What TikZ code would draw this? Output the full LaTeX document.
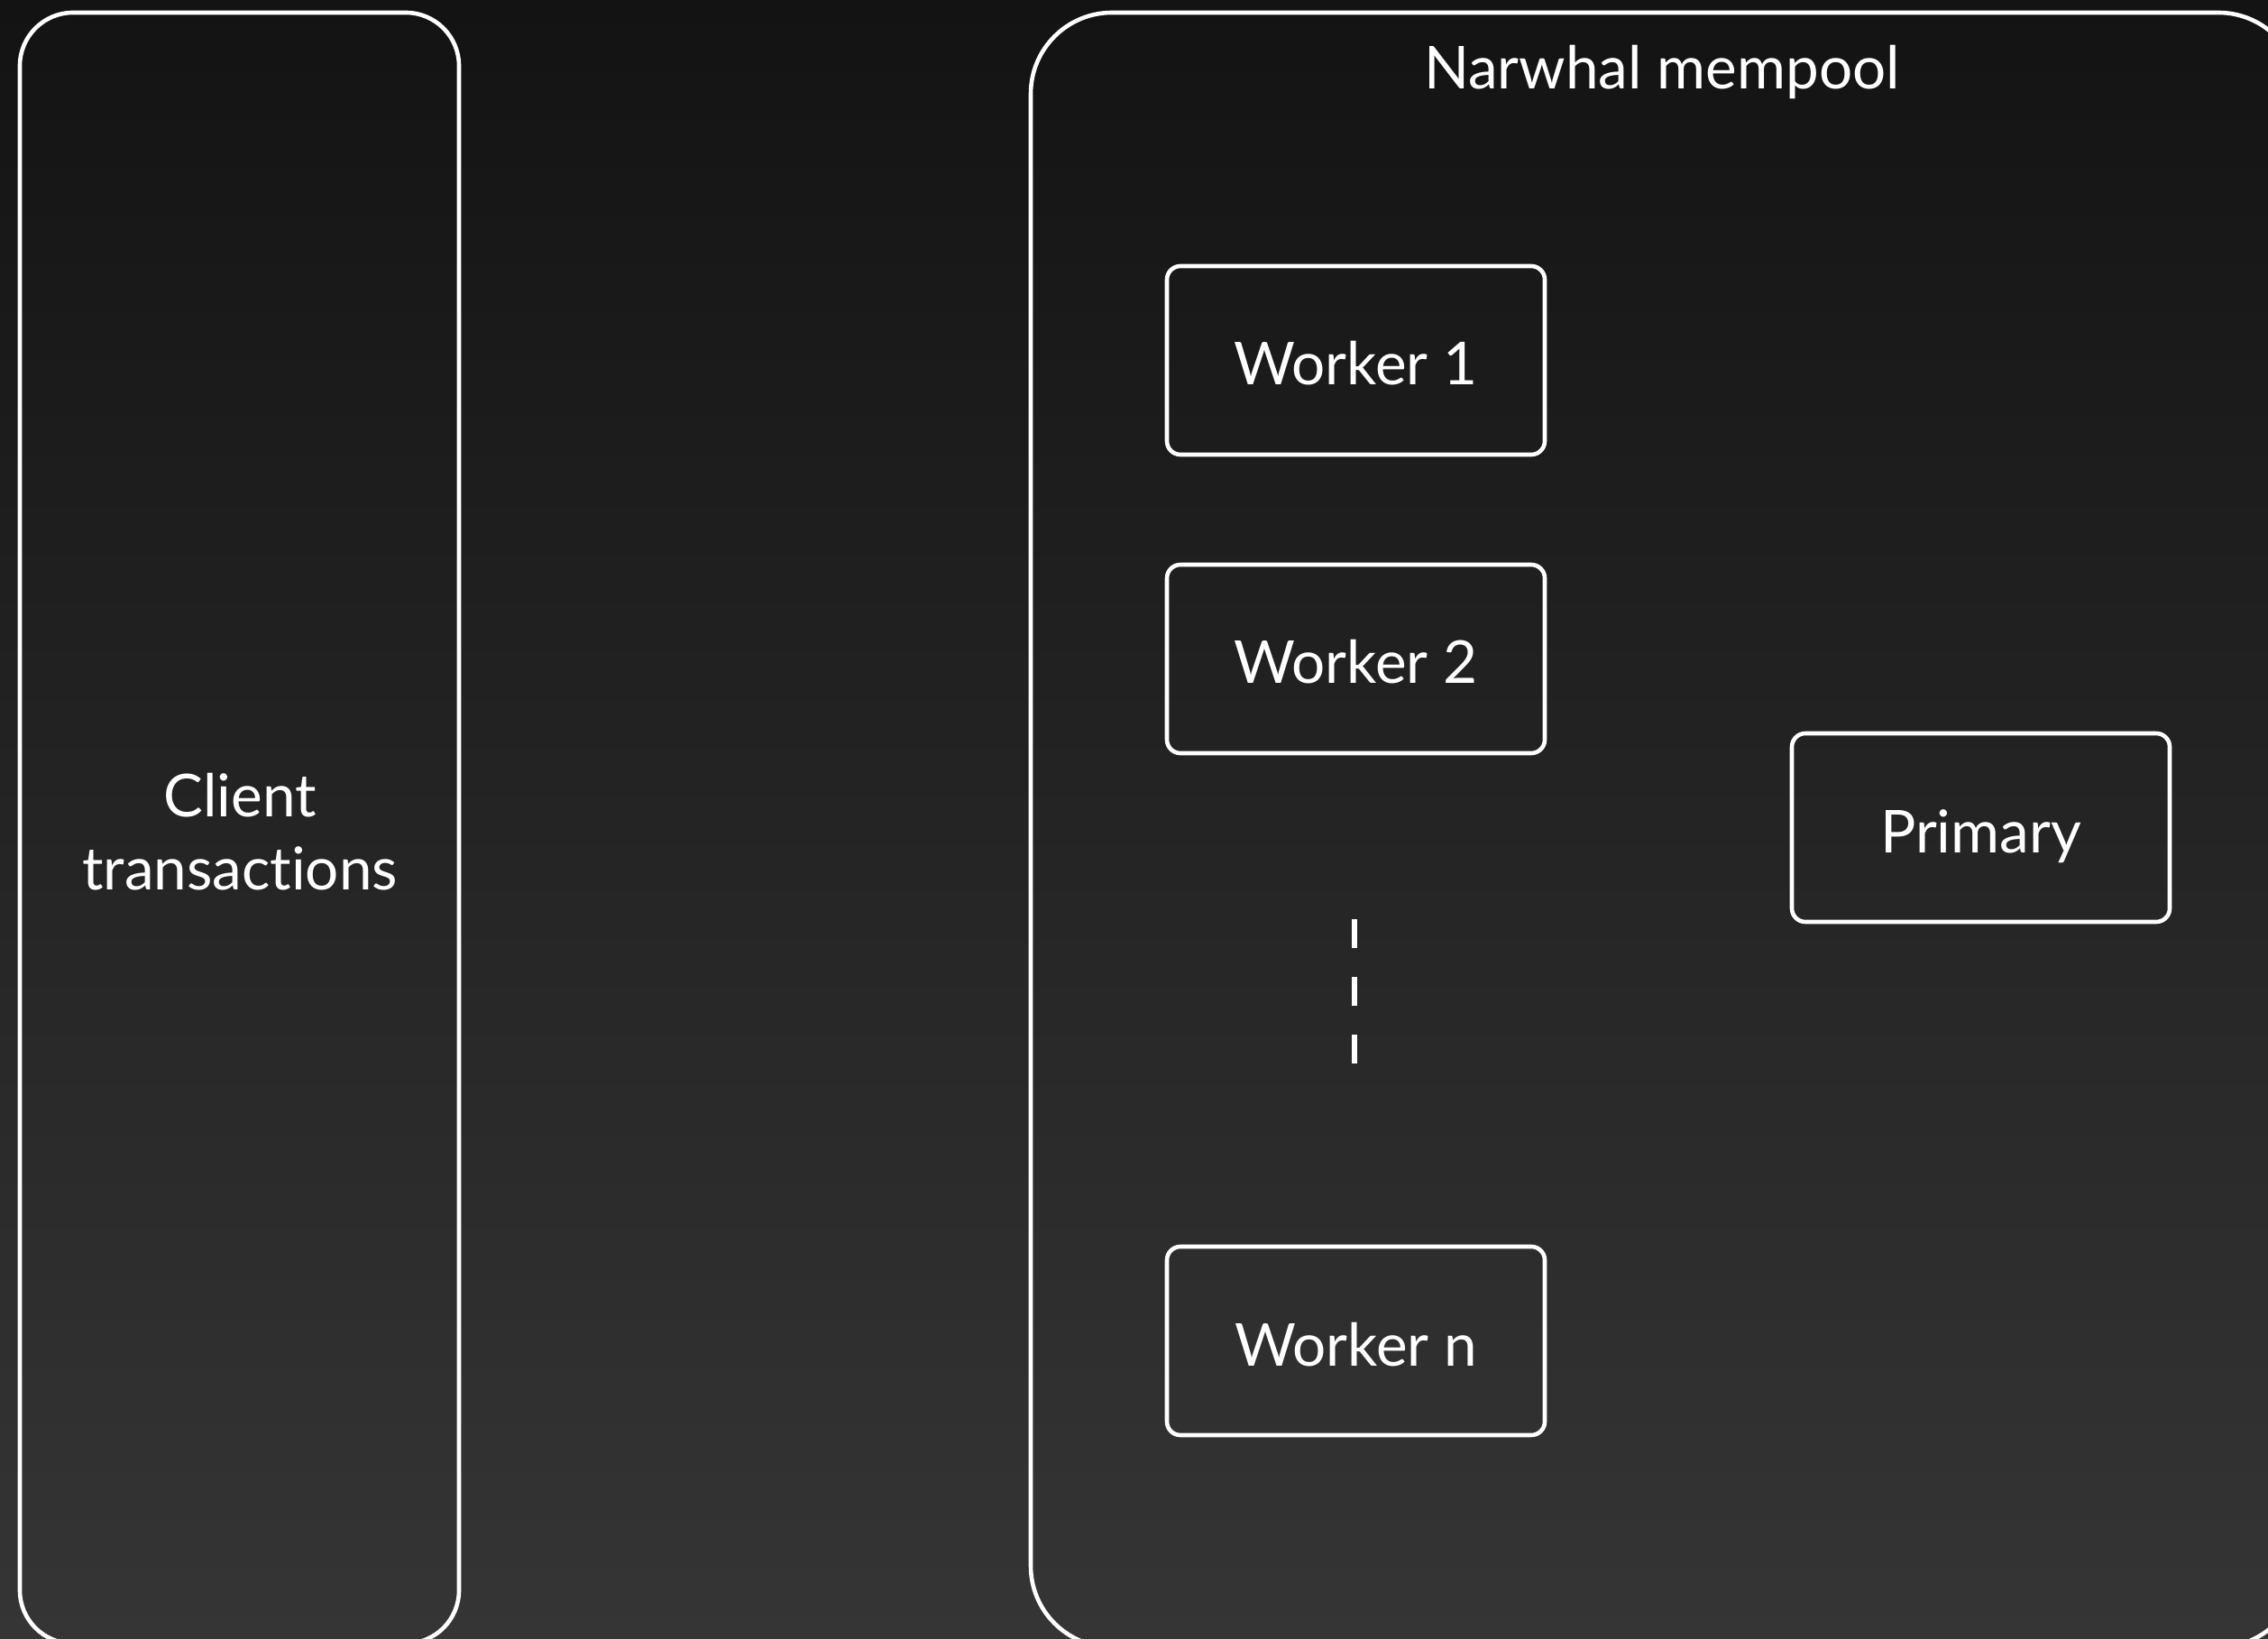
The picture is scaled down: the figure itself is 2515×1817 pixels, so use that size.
\documentclass[tikz,border=0pt]{standalone}
\usepackage{fontspec}
\setmainfont{Lato}[Ligatures={NoCommon,NoRare}]
\newcommand{\labelfont}{\fontsize{16.4pt}{20.25pt}\selectfont}
\begin{document}
\begin{tikzpicture}[x=0.25pt,y=-0.25pt,
  outline/.style={draw=white, line width=1.15pt, inner sep=0pt},
  box/.style={outline, rounded corners=3.75pt, minimum width=104.75pt,
    minimum height=52.25pt, text=white, font=\labelfont,
    text height=13.75pt, text depth=0pt},
  caption/.style={text=white, font=\labelfont, inner sep=0pt}]
  % canvas and background gradient
  \useasboundingbox (0,0) rectangle (2515,1817);
  \clip (0,0) rectangle (2515,1817);
  \shade[top color={rgb,255:red,19;green,19;blue,19},
         bottom color={rgb,255:red,53;green,53;blue,53}]
    (0,0) rectangle (2515,1817);

  % client column
  \node[outline, rounded corners=14.75pt, minimum width=121.75pt,
        minimum height=452pt] (client) at (265.5,918) {};
  \node[caption, align=center, anchor=base] (clienttext) at (266,986)
    {Client\\transactions};

  % mempool container
  \node[outline, rounded corners=22.5pt, minimum width=351.75pt,
        minimum height=453pt] (mempool) at (1846.5,920) {};
  \node[caption, anchor=base] (mempooltitle) at (1843,99) {Narwhal mempool};

  % workers and primary
  \node[box] (w1) at (1503.5,399.5) {Worker 1};
  \node[box] (w2) at (1503.5,730.5) {Worker 2};
  \node[box] (wn) at (1503.5,1486.5) {Worker n};
  \node[box] (primary) at (2196.5,917.5) {Primary};

  % ellipsis between the workers
  \coordinate (dtop) at (1502,1019);
  \coordinate (dbot) at (1502,1179);
  \draw[white, line width=1.4pt, dash pattern=on 8pt off 8pt] (dtop) -- (dbot);
\end{tikzpicture}
\end{document}
